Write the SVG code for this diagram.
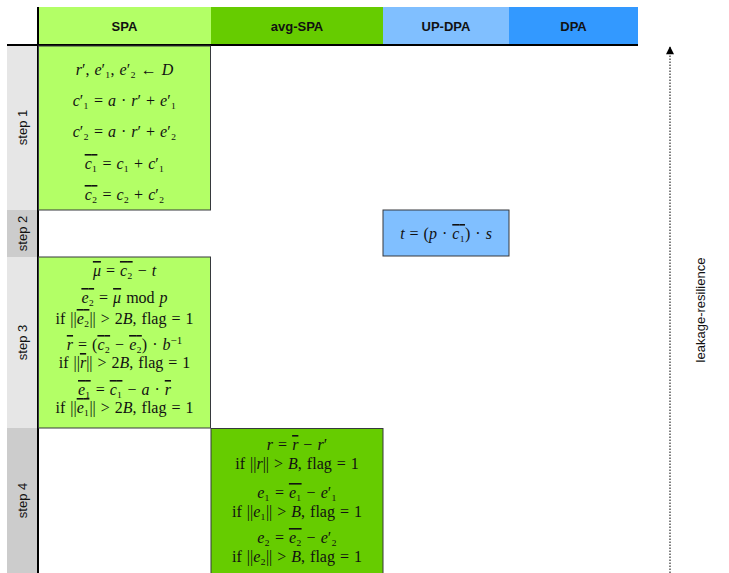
<svg xmlns="http://www.w3.org/2000/svg" width="729" height="573" viewBox="0 0 729 573">
<defs>
<style>
.hd{font-family:"Liberation Sans",Arial,sans-serif;font-size:13px;font-weight:bold;text-anchor:middle;fill:#111}
.st{font-family:"Liberation Sans",Arial,sans-serif;font-size:13px;text-anchor:middle;fill:#111}
.m{font-family:"Liberation Serif","Times New Roman",serif;font-size:16px;text-anchor:middle;fill:#111;word-spacing:1px}
.i{font-style:italic}
.p{font-size:11px;baseline-shift:super}
.o{text-decoration:overline}
.box{stroke:#36393d;stroke-width:1}
</style>
<marker id="ah" viewBox="0 0 10 10" refX="9" refY="5" markerWidth="9" markerHeight="8" orient="auto" markerUnits="userSpaceOnUse">
<path d="M0,0 L10,5 L0,10 Z" fill="#000"/>
</marker>
</defs>
<rect width="729" height="573" fill="#fff"/>

<g id="header">
<rect x="38" y="7" width="173" height="38" fill="#b3ff66"/>
<rect x="211" y="7" width="172" height="38" fill="#66cc00"/>
<rect x="383" y="7" width="126" height="38" fill="#80bfff"/>
<rect x="509" y="7" width="129" height="38" fill="#3399ff"/>
<text class="hd" x="124.5" y="31">SPA</text>
<text class="hd" x="297" y="31">avg-SPA</text>
<text class="hd" x="446" y="31">UP-DPA</text>
<text class="hd" x="573.5" y="31">DPA</text>
</g>

<g id="steps">
<rect x="7" y="45" width="31" height="165" fill="#e6e6e6"/>
<rect x="7" y="210" width="31" height="47" fill="#cccccc"/>
<rect x="7" y="257" width="31" height="171" fill="#e6e6e6"/>
<rect x="7" y="428" width="31" height="145" fill="#cccccc"/>
<text class="st" transform="translate(27,127.5) rotate(-90)">step 1</text>
<text class="st" transform="translate(27,233.5) rotate(-90)">step 2</text>
<text class="st" transform="translate(27,342.5) rotate(-90)">step 3</text>
<text class="st" transform="translate(27,500.5) rotate(-90)">step 4</text>
</g>

<g id="grid">
<line x1="38" y1="7" x2="38" y2="573" stroke="#000" stroke-width="2"/>
<line x1="7" y1="45" x2="638" y2="45" stroke="#000" stroke-width="2"/>
</g>

<g id="step1-spa">
<rect class="box" x="38.5" y="46" width="172" height="164" fill="#b3ff66"/>
<text class="m" x="124.5" y="75"><tspan class="i">r</tspan>′, <tspan class="i">e</tspan>′₁, <tspan class="i">e</tspan>′₂ ← <tspan class="i">D</tspan></text>
<text class="m" x="124.5" y="106"><tspan class="i">c</tspan>′₁ = <tspan class="i">a</tspan> · <tspan class="i">r</tspan>′ + <tspan class="i">e</tspan>′₁</text>
<text class="m" x="124.5" y="137"><tspan class="i">c</tspan>′₂ = <tspan class="i">a</tspan> · <tspan class="i">r</tspan>′ + <tspan class="i">e</tspan>′₂</text>
<text class="m" x="124.5" y="169"><tspan class="o"><tspan class="i">c</tspan>₁</tspan> = <tspan class="i">c</tspan>₁ + <tspan class="i">c</tspan>′₁</text>
<text class="m" x="124.5" y="200"><tspan class="o"><tspan class="i">c</tspan>₂</tspan> = <tspan class="i">c</tspan>₂ + <tspan class="i">c</tspan>′₂</text>
</g>

<g id="step2-updpa">
<rect class="box" x="383" y="210" width="126" height="46" fill="#80bfff"/>
<text class="m" x="446" y="239"><tspan class="i">t</tspan> = (<tspan class="i">p</tspan> · <tspan class="o"><tspan class="i">c</tspan>₁</tspan>) · <tspan class="i">s</tspan></text>
</g>

<g id="step3-spa">
<rect class="box" x="38.5" y="257" width="172" height="171" fill="#b3ff66"/>
<text class="m" x="124.5" y="276"><tspan class="i o">μ</tspan> = <tspan class="o"><tspan class="i">c</tspan>₂</tspan> − <tspan class="i">t</tspan></text>
<text class="m" x="124.5" y="303"><tspan class="o"><tspan class="i">e</tspan>₂</tspan> = <tspan class="i o">μ</tspan> mod <tspan class="i">p</tspan></text>
<text class="m" x="124.5" y="324">if ||<tspan class="o"><tspan class="i">e</tspan>₂</tspan>|| &gt; 2<tspan class="i">B</tspan>, flag = 1</text>
<text class="m" x="124.5" y="350"><tspan class="i o">r</tspan> = (<tspan class="o"><tspan class="i">c</tspan>₂</tspan> − <tspan class="o"><tspan class="i">e</tspan>₂</tspan>) · <tspan class="i">b</tspan><tspan class="p">−1</tspan></text>
<text class="m" x="124.5" y="368">if ||<tspan class="i o">r</tspan>|| &gt; 2<tspan class="i">B</tspan>, flag = 1</text>
<text class="m" x="124.5" y="395"><tspan class="o"><tspan class="i">e</tspan>₁</tspan> = <tspan class="o"><tspan class="i">c</tspan>₁</tspan> − <tspan class="i">a</tspan> · <tspan class="i o">r</tspan></text>
<text class="m" x="124.5" y="413">if ||<tspan class="o"><tspan class="i">e</tspan>₁</tspan>|| &gt; 2<tspan class="i">B</tspan>, flag = 1</text>
</g>

<g id="step4-avgspa">
<rect class="box" x="211" y="428.5" width="172" height="145" fill="#66cc00"/>
<text class="m" x="297" y="450"><tspan class="i">r</tspan> = <tspan class="i o">r</tspan> − <tspan class="i">r</tspan>′</text>
<text class="m" x="297" y="469">if ||<tspan class="i">r</tspan>|| &gt; <tspan class="i">B</tspan>, flag = 1</text>
<text class="m" x="297" y="498"><tspan class="i">e</tspan>₁ = <tspan class="o"><tspan class="i">e</tspan>₁</tspan> − <tspan class="i">e</tspan>′₁</text>
<text class="m" x="297" y="517">if ||<tspan class="i">e</tspan>₁|| &gt; <tspan class="i">B</tspan>, flag = 1</text>
<text class="m" x="297" y="543"><tspan class="i">e</tspan>₂ = <tspan class="o"><tspan class="i">e</tspan>₂</tspan> − <tspan class="i">e</tspan>′₂</text>
<text class="m" x="297" y="562">if ||<tspan class="i">e</tspan>₂|| &gt; <tspan class="i">B</tspan>, flag = 1</text>
</g>

<g id="connectors">
<line x1="670" y1="573" x2="670" y2="47" stroke="#000" stroke-width="1" stroke-dasharray="1.5,1.5" marker-end="url(#ah)"/>
</g>
<g id="leakage-label">
<text class="st" transform="translate(705,310) rotate(-90)">leakage-resilience</text>
</g>
</svg>
